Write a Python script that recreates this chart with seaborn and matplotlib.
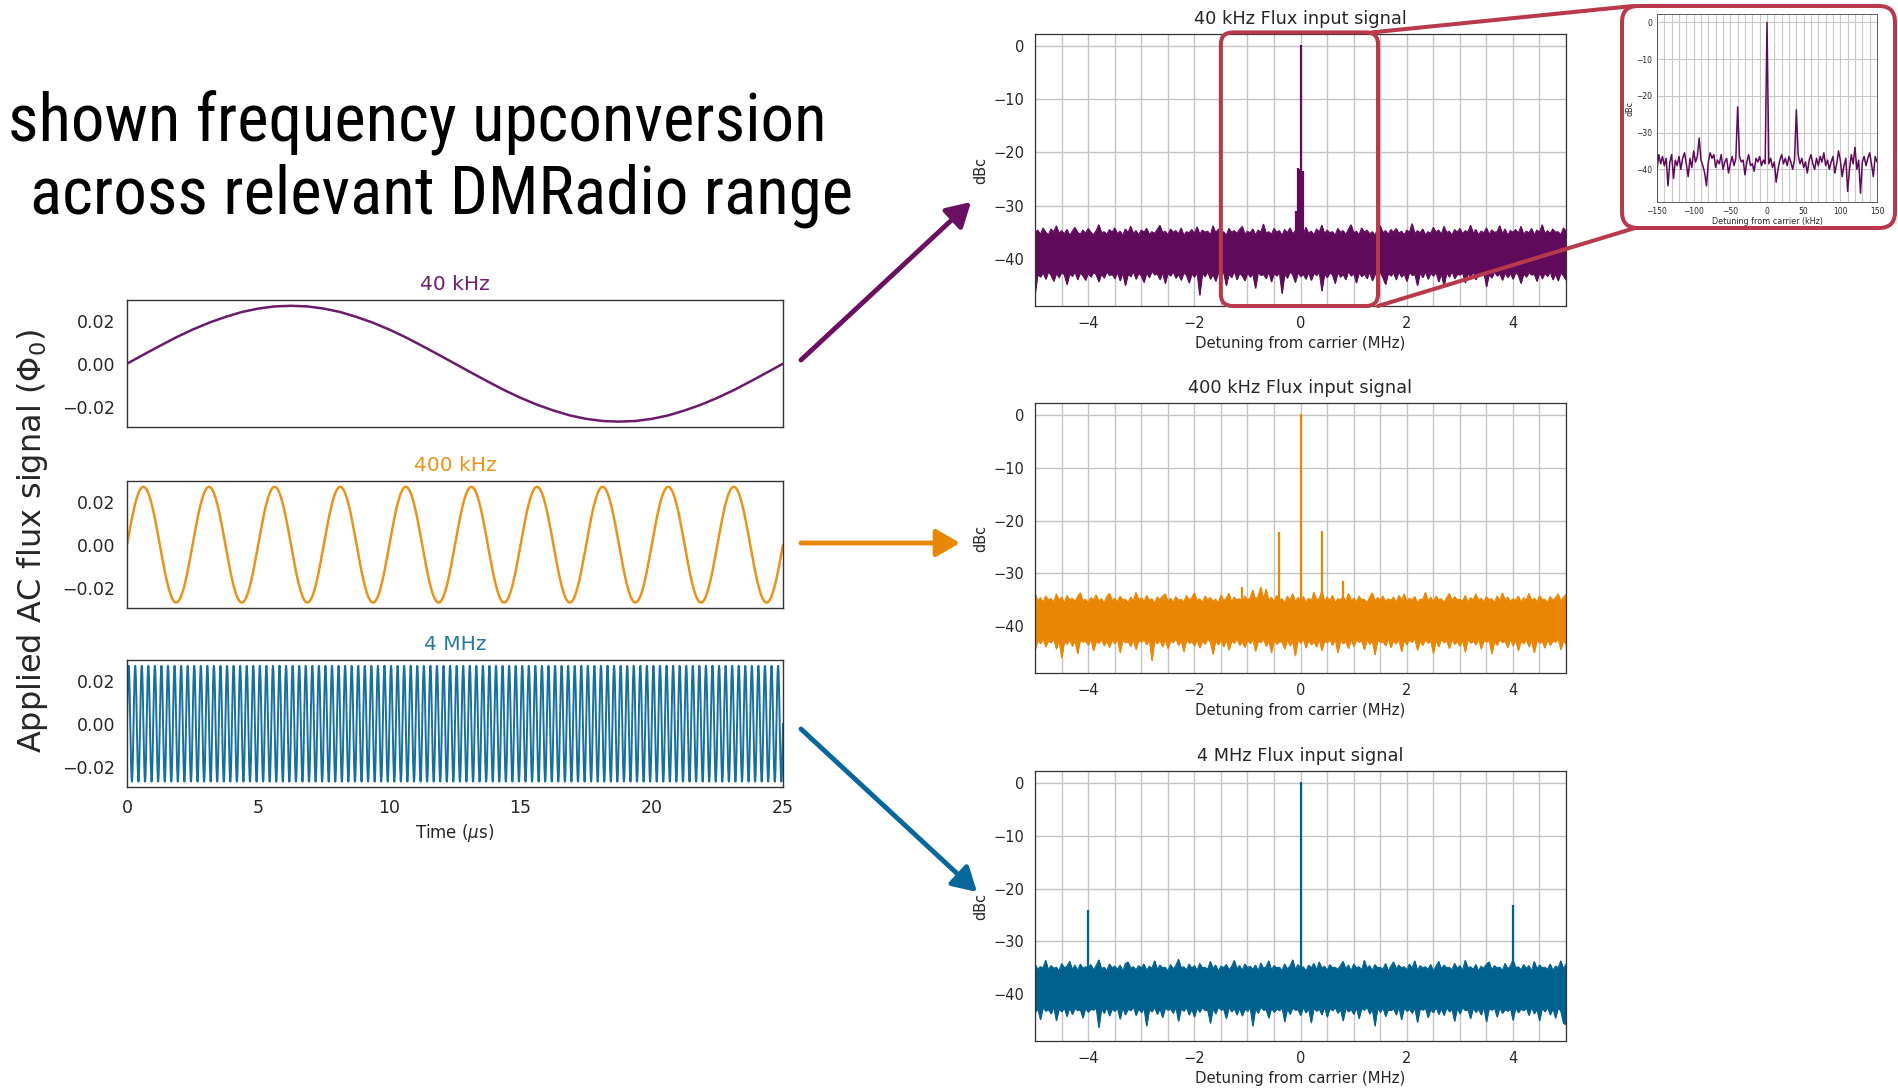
import numpy as np
import matplotlib
matplotlib.use("Agg")
import matplotlib.pyplot as plt
import seaborn as sns
from matplotlib.patches import FancyBboxPatch, FancyArrowPatch
from matplotlib.lines import Line2D
from matplotlib.ticker import MultipleLocator
from matplotlib.textpath import TextPath
from matplotlib import font_manager as fm

# ---------------- data ----------------
signal_labels = ["40 kHz", "400 kHz", "4 MHz"]
cycles_in_window = [1, 10, 100]          # periods shown in the 25 us window
time_window_us = 25.0
# one period of the applied flux signal (Phi_0)
one_cycle = [0.0000, 0.0042, 0.0083, 0.0123, 0.0159, 0.0191, 0.0218, 0.0241, 0.0257, 0.0267,
             0.0270, 0.0267, 0.0257, 0.0241, 0.0218, 0.0191, 0.0159, 0.0123, 0.0083, 0.0042,
             0.0000, -0.0042, -0.0083, -0.0123, -0.0159, -0.0191, -0.0218, -0.0241, -0.0257, -0.0267,
             -0.0270, -0.0267, -0.0257, -0.0241, -0.0218, -0.0191, -0.0159, -0.0123, -0.0083, -0.0042,
             0.0000]
time_ticks = [0, 5, 10, 15, 20, 25]
flux_ticks = [-0.02, 0.0, 0.02]
flux_ticklabels = ["\u22120.02", "0.00", "0.02"]

spec_titles = ["40 kHz Flux input signal", "400 kHz Flux input signal", "4 MHz Flux input signal"]
detuning_ticks = [-4, -2, 0, 2, 4]
dbc_ticks = [0, -10, -20, -30, -40]

# noise floor envelopes (dBc), evenly spaced over -5..5 MHz
upper_40k = [-35.1,-34.6,-35.4,-34.2,-35.0,-35.5,-34.4,-34.9,-33.8,-35.2,-34.7,-35.3,-34.5,-35.6,-34.8,-34.1,-35.0,-35.4,-34.6,-35.2,
             -34.3,-35.0,-35.5,-34.7,-33.6,-35.1,-34.9,-35.4,-34.5,-35.0,-34.2,-35.3,-34.8,-35.6,-34.4,-35.1,-33.9,-35.2,-34.7,-35.5,
             -34.6,-35.0,-34.3,-35.4,-34.9,-35.2,-34.5,-33.7,-35.1,-34.8,-35.5,-34.4,-35.0,-34.7,-35.3,-34.2,-35.6,-34.9,-35.1,-34.5,
             -35.2,-34.0,-35.4,-34.6,-35.0,-34.8,-35.5,-33.8,-35.1,-34.4,-35.3,-34.9,-35.6,-34.3,-35.0,-34.7,-35.2,-34.5,-33.9,-35.4,
             -34.8,-35.1,-34.4,-35.5,-34.6,-35.0,-33.5,-35.2,-34.9,-35.4,-34.3,-35.0,-34.7,-35.6,-34.5,-35.1,-34.2,-35.3,-34.8,-35.0,
             -34.6,-35.4,-34.1,-35.2,-34.8,-35.5,-34.4,-35.0,-33.7,-35.3,-34.6,-35.1,-34.9,-35.6,-34.3,-35.0,-34.7,-35.4,-34.5,-33.6,
             -35.2,-34.8,-35.5,-34.2,-35.0,-34.6,-35.3,-34.9,-35.6,-34.4,-33.8,-35.1,-34.7,-35.4,-34.5,-35.0,-34.3,-35.2,-34.8,-35.5,
             -34.6,-35.0,-33.4,-35.3,-34.7,-35.1,-34.4,-35.5,-34.9,-35.2,-34.1,-35.0,-34.6,-35.4,-33.9,-35.1,-34.8,-35.6,-34.5,-35.0,
             -34.3,-35.3,-34.7,-35.0,-33.7,-35.2,-34.5,-35.5,-34.8,-35.1,-34.2,-35.4,-34.6,-35.0,-34.9,-33.8,-35.3,-34.4,-35.6,-34.7,
             -35.0,-34.5,-35.2,-33.9,-35.4,-34.8,-35.1,-34.3,-35.5,-34.6,-35.0,-33.6,-35.3,-34.7,-35.2,-34.4,-35.0,-34.9,-35.5,-34.2,
             -34.8]
lower_40k = [-46.5,-42.9,-43.4,-42.6,-43.8,-42.4,-43.1,-44.2,-42.7,-43.5,-42.5,-43.0,-44.8,-42.8,-43.3,-42.4,-43.9,-42.6,-43.2,-44.0,
             -42.7,-43.4,-42.5,-43.0,-44.3,-42.8,-43.6,-42.4,-43.1,-42.9,-43.7,-42.5,-44.1,-42.6,-45.0,-42.9,-43.3,-42.4,-43.8,-42.7,
             -43.2,-44.4,-42.6,-43.5,-42.3,-43.0,-42.8,-43.9,-42.5,-44.6,-42.7,-43.2,-42.4,-43.6,-42.9,-44.0,-42.6,-43.1,-44.5,-42.8,
             -43.4,-42.5,-46.8,-42.7,-43.3,-42.4,-43.8,-42.9,-44.2,-42.6,-43.0,-42.5,-45.0,-42.8,-43.5,-42.3,-43.9,-42.7,-43.2,-44.1,
             -42.6,-43.4,-42.8,-45.5,-42.5,-43.1,-42.9,-43.7,-42.4,-44.3,-42.7,-43.2,-42.5,-46.5,-42.8,-43.6,-42.4,-43.0,-44.4,-42.6,
             -43.3,-42.9,-43.8,-42.5,-44.0,-42.7,-43.1,-42.4,-46.0,-42.8,-43.5,-42.6,-43.0,-44.6,-42.5,-43.4,-42.9,-43.9,-42.3,-43.2,
             -42.7,-44.5,-42.6,-43.3,-42.8,-43.7,-42.4,-44.1,-42.9,-43.0,-42.5,-43.6,-44.8,-42.7,-43.2,-42.6,-43.9,-42.4,-43.4,-42.8,
             -44.2,-42.5,-43.1,-42.9,-45.0,-42.6,-43.5,-42.4,-43.8,-42.7,-43.2,-42.5,-44.3,-42.8,-45.1,-42.6,-43.4,-42.3,-43.7,-42.9,
             -43.0,-42.6,-44.5,-42.8,-43.3,-42.4,-43.9,-42.7,-43.1,-42.5,-45.2,-42.9,-43.6,-42.4,-43.2,-42.8,-44.0,-42.6,-43.5,-42.7,
             -43.8,-42.5,-43.1,-44.6,-42.8,-43.4,-42.6,-43.0,-42.9,-44.2,-42.5,-43.7,-42.7,-43.3,-42.4,-43.9,-42.8,-44.1,-42.6,-43.2,
             -44.0]
upper_400k = [-33.8,-35.2,-34.6,-35.5,-34.3,-35.0,-34.8,-35.4,-33.9,-35.1,-34.5,-35.6,-34.2,-35.0,-34.7,-35.3,-34.4,-33.7,-35.2,-34.9,
              -35.5,-34.6,-35.0,-34.1,-35.3,-34.8,-35.6,-34.4,-33.8,-35.1,-34.7,-35.4,-34.3,-35.0,-34.9,-35.5,-34.5,-35.2,-33.6,-35.0,
              -34.6,-35.4,-34.2,-35.1,-34.8,-35.6,-34.5,-35.0,-34.3,-33.9,-35.3,-34.7,-35.5,-34.4,-35.1,-34.9,-35.4,-34.2,-35.0,-34.6,
              -33.7,-35.2,-34.8,-35.5,-34.3,-35.0,-34.6,-35.3,-34.9,-35.6,-34.1,-35.2,-34.7,-33.8,-35.4,-34.5,-35.0,-34.8,-35.5,-34.3,
              -35.1,-34.6,-33.2,-35.0,-34.4,-32.6,-34.9,-33.0,-35.2,-34.5,-35.4,-34.2,-35.0,-34.8,-35.6,-34.3,-35.1,-33.9,-35.3,-34.6,
              -35.0,-34.4,-35.5,-34.7,-35.2,-33.6,-35.0,-34.8,-33.3,-35.4,-34.5,-35.1,-34.2,-35.5,-34.8,-35.0,-34.4,-35.3,-33.8,-35.1,
              -34.7,-35.4,-34.3,-35.0,-34.9,-35.6,-34.5,-33.7,-35.2,-34.6,-35.0,-34.3,-35.4,-34.8,-35.1,-34.5,-35.5,-34.2,-35.0,-33.9,
              -35.3,-34.7,-35.1,-34.4,-35.6,-34.9,-35.0,-33.6,-35.2,-34.5,-35.4,-34.3,-35.0,-34.8,-35.5,-34.6,-33.8,-35.2,-34.4,-35.0,
              -34.9,-35.3,-34.2,-35.5,-34.6,-35.0,-33.9,-35.1,-34.7,-35.4,-34.4,-35.0,-34.8,-35.6,-34.3,-35.2,-33.7,-35.0,-34.5,-35.3,
              -34.8,-35.1,-34.3,-35.5,-34.6,-35.0,-33.8,-35.2,-34.7,-35.4,-34.2,-35.0,-34.9,-35.5,-34.4,-35.1,-34.6,-33.9,-35.3,-34.5,
              -34.0]
lower_400k = [-44.5,-42.7,-43.3,-42.5,-43.9,-42.8,-43.1,-42.4,-44.3,-42.6,-46.0,-42.9,-43.4,-42.5,-43.8,-42.7,-45.2,-42.6,-43.0,-42.8,
              -43.6,-42.4,-44.6,-42.9,-43.2,-42.5,-43.7,-42.8,-44.0,-42.6,-43.3,-42.4,-45.0,-42.7,-43.1,-42.9,-43.8,-42.5,-44.4,-42.7,
              -43.0,-42.6,-43.5,-42.4,-46.5,-42.8,-43.3,-42.6,-43.9,-42.5,-44.2,-42.8,-43.1,-42.4,-43.6,-42.7,-44.8,-42.6,-43.2,-42.9,
              -43.7,-42.5,-44.1,-42.8,-43.4,-42.4,-43.0,-45.3,-42.7,-43.5,-42.6,-43.9,-42.5,-44.5,-42.8,-43.2,-42.4,-43.6,-42.9,-44.0,
              -42.6,-43.3,-42.5,-44.7,-42.8,-43.1,-42.4,-43.8,-42.7,-45.0,-42.6,-43.4,-42.9,-43.0,-44.3,-42.5,-43.7,-42.8,-45.6,-42.6,
              -43.2,-42.4,-44.1,-42.7,-43.5,-42.9,-43.9,-42.5,-44.6,-42.8,-43.1,-42.6,-43.6,-42.4,-45.0,-42.7,-43.3,-42.9,-44.2,-42.5,
              -43.8,-42.6,-43.0,-42.8,-44.4,-42.5,-43.4,-42.7,-45.4,-42.6,-43.1,-42.9,-43.7,-42.4,-44.0,-42.8,-43.3,-42.5,-44.8,-42.7,
              -43.5,-42.6,-43.0,-42.4,-44.5,-42.9,-43.6,-42.5,-43.2,-42.8,-45.1,-42.6,-43.9,-42.4,-43.1,-42.7,-44.2,-42.5,-43.4,-42.9,
              -43.8,-42.6,-44.9,-42.5,-43.2,-42.8,-43.5,-42.4,-44.3,-42.7,-43.0,-42.6,-45.2,-42.9,-43.6,-42.5,-43.1,-42.8,-44.0,-42.4,
              -43.7,-42.6,-44.6,-42.8,-43.3,-42.5,-43.9,-42.7,-45.0,-42.6,-43.2,-42.9,-44.1,-42.5,-43.6,-42.8,-43.0,-42.4,-44.4,-42.7,
              -43.5]
upper_4M = [-34.4,-35.3,-34.8,-35.0,-33.6,-35.4,-34.6,-35.1,-34.9,-35.6,-34.2,-35.0,-34.7,-33.8,-35.3,-34.5,-35.5,-34.3,-35.1,-34.8,
            -35.0,-34.4,-35.4,-34.6,-33.5,-35.2,-34.9,-35.5,-34.3,-35.0,-34.7,-35.3,-34.5,-35.6,-34.2,-33.9,-35.1,-34.8,-35.4,-34.6,
            -35.0,-34.3,-35.5,-34.7,-35.1,-33.7,-35.3,-34.5,-35.0,-34.9,-35.6,-34.4,-35.2,-34.6,-33.4,-35.0,-34.8,-35.4,-34.3,-35.1,
            -34.6,-35.5,-34.2,-35.0,-34.9,-35.3,-33.8,-35.1,-34.5,-35.6,-34.7,-35.0,-34.4,-35.4,-34.8,-33.6,-35.2,-34.6,-35.5,-34.3,
            -35.0,-34.7,-35.3,-34.5,-35.6,-34.1,-35.1,-34.8,-33.7,-35.4,-34.6,-35.0,-34.9,-35.5,-34.3,-35.2,-34.7,-33.5,-35.3,-34.4,
            -35.1,-34.8,-35.6,-34.5,-35.0,-34.2,-35.4,-33.9,-35.1,-34.7,-35.5,-34.4,-35.0,-34.9,-35.3,-34.6,-33.8,-35.2,-34.5,-35.6,
            -34.3,-35.0,-34.8,-35.4,-33.6,-35.1,-34.6,-35.5,-34.4,-35.0,-34.9,-35.3,-34.2,-35.6,-34.7,-33.9,-35.2,-34.5,-35.0,-34.8,
            -35.4,-34.3,-35.1,-33.7,-35.5,-34.6,-35.0,-34.8,-35.3,-34.4,-35.6,-34.7,-33.8,-35.2,-34.5,-35.0,-34.9,-35.4,-34.2,-35.1,
            -34.6,-35.5,-33.6,-35.0,-34.8,-35.3,-34.4,-35.6,-34.7,-35.1,-34.3,-33.9,-35.4,-34.6,-35.0,-34.9,-35.5,-34.2,-35.2,-34.7,
            -33.5,-35.0,-34.8,-35.4,-34.4,-35.1,-34.6,-35.6,-33.8,-35.2,-34.5,-35.0,-34.9,-35.3,-34.3,-35.5,-34.7,-35.0,-33.7,-35.2,
            -34.3]
lower_4M = [-43.5,-42.7,-44.8,-42.5,-43.2,-42.9,-43.7,-42.4,-45.0,-42.8,-43.3,-42.6,-44.2,-42.5,-43.8,-42.7,-43.1,-42.9,-44.5,-42.6,
            -43.4,-42.8,-43.0,-42.5,-46.3,-42.7,-43.6,-42.4,-44.1,-42.8,-43.2,-42.6,-44.7,-42.5,-43.9,-42.8,-43.1,-42.4,-44.0,-42.7,
            -43.5,-42.6,-46.0,-42.9,-43.3,-42.5,-43.8,-42.7,-44.4,-42.6,-43.0,-42.8,-43.6,-42.4,-45.1,-42.7,-43.2,-42.5,-43.9,-42.8,
            -44.3,-42.6,-43.4,-42.5,-43.1,-42.9,-45.5,-42.7,-43.7,-42.4,-43.0,-42.8,-44.6,-42.5,-43.3,-42.7,-43.9,-42.6,-44.1,-42.8,
            -43.2,-42.5,-46.0,-42.7,-43.6,-42.4,-43.0,-42.9,-44.5,-42.6,-43.4,-42.8,-43.1,-42.5,-45.2,-42.7,-43.8,-42.6,-43.0,-42.9,
            -44.0,-42.5,-43.5,-42.7,-45.4,-42.6,-43.2,-42.8,-43.9,-42.4,-44.3,-42.7,-43.1,-42.5,-43.6,-42.8,-45.0,-42.6,-43.3,-42.9,
            -43.8,-42.5,-44.6,-42.7,-43.0,-42.4,-43.7,-42.8,-46.0,-42.6,-43.4,-42.5,-44.2,-42.9,-43.1,-42.7,-43.9,-42.4,-44.8,-42.6,
            -43.2,-42.8,-43.6,-42.5,-45.3,-42.7,-43.0,-42.6,-44.4,-42.9,-43.5,-42.4,-43.8,-42.7,-44.0,-42.5,-43.3,-42.8,-45.1,-42.6,
            -43.7,-42.5,-43.1,-42.9,-44.6,-42.6,-43.4,-42.8,-43.9,-42.4,-45.2,-42.7,-43.0,-42.6,-44.3,-42.5,-43.6,-42.9,-43.2,-42.7,
            -44.9,-42.5,-43.5,-42.8,-43.1,-42.6,-44.0,-42.4,-43.7,-42.8,-45.0,-42.6,-43.3,-42.5,-43.9,-42.7,-44.5,-42.6,-43.2,-45.5,
            -45.8]
noise_upper = [upper_40k, upper_400k, upper_4M]
noise_lower = [lower_40k, lower_400k, lower_4M]

# discrete tones (MHz, dBc) rising above the floor
tone_x = [[-0.093, -0.04, 0.0, 0.04], [-1.1, -0.4, 0.0, 0.4, 0.8], [-4.0, 0.0, 4.0]]
tone_y = [[-31.0, -23.0, 0.2, -23.5], [-32.5, -22.2, 0.2, -22.0, -31.5], [-24.0, 0.2, -23.2]]
tone_floor = -36.0

# zoomed 40 kHz spectrum, evenly spaced over -150..150 kHz
inset_dbc = [-40.0,-36.0,-38.5,-36.5,-39.0,-37.0,-44.5,-38.0,-36.0,-42.5,
             -37.5,-39.0,-36.5,-40.0,-37.0,-35.5,-38.5,-42.0,-37.0,-39.5,
             -35.0,-38.0,-36.5,-31.5,-37.5,-39.0,-41.0,-44.5,-38.0,-35.5,
             -37.0,-36.0,-39.5,-37.5,-38.5,-36.0,-40.0,-38.0,-37.0,-41.0,
             -38.5,-36.5,-39.0,-37.0,-23.0,-36.5,-38.0,-37.5,-41.5,-38.0,
             -36.0,-39.0,-38.5,-40.5,-37.0,-38.0,-36.5,-39.0,-37.5,-38.5,
             0.0,-38.5,-37.0,-39.5,-38.0,-43.5,-40.0,-37.5,-36.0,-38.5,
             -37.0,-39.0,-36.5,-38.0,-40.0,-37.5,-23.8,-36.0,-38.5,-37.0,
             -39.5,-38.0,-41.0,-37.5,-36.0,-38.5,-40.0,-37.0,-39.0,-36.5,
             -38.0,-35.5,-39.0,-37.5,-40.0,-38.0,-36.5,-41.0,-38.5,-35.0,
             -37.5,-42.0,-39.0,-37.0,-46.0,-40.0,-36.0,-38.5,-34.0,-40.0,
             -37.5,-46.5,-38.0,-36.5,-39.0,-37.0,-35.5,-38.5,-42.0,-36.5,
             -38.0]
inset_ticks = [-150, -100, -50, 0, 50, 100, 150]

headline = ["shown frequency upconversion", "across relevant DMRadio range"]

# ---------------- style ----------------
trace_colors = ["#6a1a6a", "#e8931c", "#17709c"]
spec_colors = ["#5f0a5a", "#e98603", "#00618f"]
title_colors = ["#6e1f6e", "#e8931c", "#2478a3"]
box_red = "#b8394b"
arrow_colors = ["#6a0f62", "#e98603", "#07669a"]

W, H = 1898, 1088
sns.set_style("white")
plt.rcParams["font.family"] = ["DejaVu Sans"]
plt.rcParams["xtick.direction"] = "out"
plt.rcParams["ytick.direction"] = "out"
fig = plt.figure(figsize=(W / 100, H / 100), dpi=100)
fig.patch.set_facecolor("white")


def rect(l, t, r, b):
    return [l / W, 1 - b / H, (r - l) / W, (b - t) / H]


def minus(v):
    return f"{v}".replace("-", "\u2212")


# ---------------- headline (narrow sans if available) ----------------
def narrow_font():
    entries = fm.fontManager.ttflist
    regular = (400, "normal", "regular")
    for p in ["Noto Sans SemiCondensed", "Open Sans SemiCondensed", "Liberation Sans Narrow"]:
        for f in entries:
            if f.name == p and f.style == "normal" and f.weight in regular:
                return fm.FontProperties(fname=f.fname)
    for fam in ["Noto Sans", "Open Sans", "DejaVu Sans", "Roboto"]:
        for f in entries:
            if f.name == fam and str(f.stretch) == "semi-condensed" and f.style == "normal" \
                    and f.weight in regular:
                return fm.FontProperties(fname=f.fname)
    for p in ["DejaVu Sans Condensed", "Roboto Condensed", "Noto Sans Condensed", "Open Sans Condensed"]:
        for f in entries:
            if f.name == p and f.style == "normal" and f.weight in regular:
                return fm.FontProperties(fname=f.fname)
    for fam in ["DejaVu Sans", "Noto Sans", "Open Sans", "Roboto"]:
        for f in entries:
            if f.name == fam and str(f.stretch) == "condensed" and f.style == "normal" \
                    and f.weight in regular:
                return fm.FontProperties(fname=f.fname)
    return fm.FontProperties(family="Roboto")


head_fp = narrow_font()
head_fp.set_size(43)
probe = fig.text(0, 0, headline[1], fontproperties=head_fp)
fig.canvas.draw()
pw = probe.get_window_extent().width
probe.remove()
size_w = 43 * 852.0 / pw
ink = TextPath((0, 0), "shown", prop=fm.FontProperties(fname=head_fp.get_file(), size=1)).get_extents()
size_h = (47.0 * 72 / 100) / ink.height
head_fp.set_size(size_w ** 0.7 * size_h ** 0.3)
fig.text(417 / W, 1 - 141 / H, headline[0], ha="center", va="baseline",
         fontproperties=head_fp, color="black")
fig.text(441 / W, 1 - 214 / H, headline[1], ha="center", va="baseline",
         fontproperties=head_fp, color="black")

# ---------------- left: time traces ----------------
left_boxes = [(127, 300, 783, 427), (127, 481, 783, 608), (127, 660, 783, 787)]
for i, (l, t, r, b) in enumerate(left_boxes):
    ax = fig.add_axes(rect(l, t, r, b))
    n = cycles_in_window[i]
    yv = np.concatenate([np.tile(one_cycle[:-1], n), [one_cycle[-1]]])
    tv = np.linspace(0, time_window_us, len(yv))
    sns.lineplot(x=tv, y=yv, ax=ax, color=trace_colors[i], lw=1.8 if i < 2 else 1.4,
                 estimator=None, errorbar=None)
    ax.set_xlim(0, time_window_us)
    ax.set_ylim(-0.0295, 0.0297)
    ax.set_xticks(time_ticks)
    ax.set_yticks(flux_ticks)
    ax.set_yticklabels(flux_ticklabels)
    ax.tick_params(labelsize=12.5, length=5, width=1, color="#333333")
    if i < 2:
        ax.set_xticklabels([])
    else:
        ax.set_xlabel("Time ($\\mu$s)", fontsize=12)
    ax.set_title(signal_labels[i], color=title_colors[i], fontsize=14.5, pad=7)
    for s in ax.spines.values():
        s.set_visible(True)
        s.set_color("#333333")
        s.set_linewidth(1.0)

fig.text(33 / W, 1 - 541 / H, "Applied AC flux signal ($\\Phi_0$)", rotation=90,
         ha="center", va="center", fontsize=23)

# ---------------- right: spectra ----------------
spec_boxes = [(1035, 34, 1566, 306), (1035, 403, 1566, 673), (1035, 771, 1566, 1041)]
spec_axes = []
for i, (l, t, r, b) in enumerate(spec_boxes):
    ax = fig.add_axes(rect(l, t, r, b))
    n = min(len(noise_upper[i]), len(noise_lower[i]))
    up = np.asarray(noise_upper[i][:n])
    lo = np.asarray(noise_lower[i][:n])
    xs = np.linspace(-5, 5, n)
    ax.fill_between(xs, lo, up, color=spec_colors[i], lw=0.6, zorder=2)
    sns.lineplot(x=xs, y=up, ax=ax, color=spec_colors[i], lw=0.7, estimator=None, errorbar=None)
    sns.lineplot(x=xs, y=lo, ax=ax, color=spec_colors[i], lw=0.7, estimator=None, errorbar=None)
    ax.vlines(tone_x[i], tone_floor, tone_y[i], color=spec_colors[i], lw=1.6, zorder=3)
    if i == 0:
        ax.fill_between([tone_x[0][1], tone_x[0][3]], tone_floor, [tone_y[0][1], tone_y[0][3]],
                        color=spec_colors[0], lw=0, zorder=3)
    ax.set_xlim(-5, 5)
    ax.set_ylim(-48.9, 2.3)
    ax.set_xticks(detuning_ticks)
    ax.set_yticks(dbc_ticks)
    ax.set_xticklabels([minus(v) for v in detuning_ticks])
    ax.set_yticklabels([minus(v) for v in dbc_ticks])
    ax.xaxis.set_minor_locator(MultipleLocator(0.5))
    ax.yaxis.set_minor_locator(MultipleLocator(2))
    ax.set_axisbelow(True)
    ax.grid(True, which="both", axis="x", color="#c4c4c4", lw=1.0)
    ax.grid(True, which="major", axis="y", color="#c4c4c4", lw=1.0)
    ax.tick_params(which="major", labelsize=10.5, length=4, width=0.9, color="#333333")
    ax.tick_params(which="minor", length=2, width=0.7, color="#333333")
    ax.set_xlabel("Detuning from carrier (MHz)", fontsize=10.7, labelpad=3)
    ax.set_ylabel("dBc", fontsize=10.5, labelpad=4)
    ax.set_title(spec_titles[i], fontsize=12.8, pad=7)
    for s in ax.spines.values():
        s.set_visible(True)
        s.set_color("#333333")
        s.set_linewidth(0.9)
    spec_axes.append(ax)

# ---------------- inset: zoom of 40 kHz spectrum ----------------
iax = fig.add_axes(rect(1657, 14, 1877, 202))
ix = np.linspace(inset_ticks[0], inset_ticks[-1], len(inset_dbc))
sns.lineplot(x=ix, y=inset_dbc, ax=iax, color=spec_colors[0], lw=1.1, estimator=None, errorbar=None)
iax.set_xlim(inset_ticks[0], inset_ticks[-1])
iax.set_ylim(-48.9, 2.3)
iax.set_xticks(inset_ticks)
iax.set_xticklabels([minus(v) for v in inset_ticks])
iax.set_yticks(dbc_ticks)
iax.set_yticklabels([minus(v) for v in dbc_ticks])
iax.xaxis.set_minor_locator(MultipleLocator(10))
iax.set_axisbelow(True)
iax.grid(True, which="both", axis="x", color="#c8c8c8", lw=0.8)
iax.grid(True, which="major", axis="y", color="#c8c8c8", lw=0.8)
iax.tick_params(which="major", labelsize=5.5, length=2, width=0.6, pad=1.5)
iax.tick_params(which="minor", length=1, width=0.4)
iax.set_xlabel("Detuning from carrier (kHz)", fontsize=5.8, labelpad=1)
iax.set_ylabel("dBc", fontsize=5.8, labelpad=1)
for s in iax.spines.values():
    s.set_visible(True)
    s.set_color("#444444")
    s.set_linewidth(0.6)

# ---------------- highlight boxes and connectors ----------------
fig.canvas.draw()
ax0 = spec_axes[0]
bl = ax0.transData.transform((-1.5, -48.9))
tr = ax0.transData.transform((1.46, 2.6))
zoom_box = FancyBboxPatch((bl[0], bl[1]), tr[0] - bl[0], tr[1] - bl[1],
                          boxstyle="round,pad=0,rounding_size=12", transform=None,
                          fill=False, ec=box_red, lw=2.9, zorder=10, clip_on=False)
fig.add_artist(zoom_box)

ib = iax.get_window_extent()
ibl = (ib.x0 - 35, ib.y0 - 26)
itr = (ib.x1 + 18, ib.y1 + 8)
inset_box = FancyBboxPatch(ibl, itr[0] - ibl[0], itr[1] - ibl[1],
                           boxstyle="round,pad=0,rounding_size=16", transform=None,
                           fill=False, ec=box_red, lw=2.9, zorder=10, clip_on=False)
fig.add_artist(inset_box)
fig.add_artist(Line2D([tr[0] - 6, ibl[0] + 11], [tr[1], itr[1]], transform=None,
                      color=box_red, lw=2.9, zorder=10, solid_capstyle="round"))
fig.add_artist(Line2D([tr[0], ibl[0] + 13], [bl[1], ibl[1]], transform=None,
                      color=box_red, lw=2.9, zorder=10, solid_capstyle="round"))

# ---------------- arrows ----------------
arrow_ends = [((801, 360), (971, 202)), ((801, 543), (960, 543)), ((801, 729), (977, 892))]
for (p0, p1), c in zip(arrow_ends, arrow_colors):
    fig.add_artist(FancyArrowPatch((p0[0] / W, 1 - p0[1] / H), (p1[0] / W, 1 - p1[1] / H),
                                   transform=fig.transFigure,
                                   arrowstyle="-|>,head_length=0.9,head_width=0.52",
                                   mutation_scale=16, lw=3.5, color=c, shrinkA=0, shrinkB=0))

fig.savefig("out.png", dpi=100, facecolor="white")
